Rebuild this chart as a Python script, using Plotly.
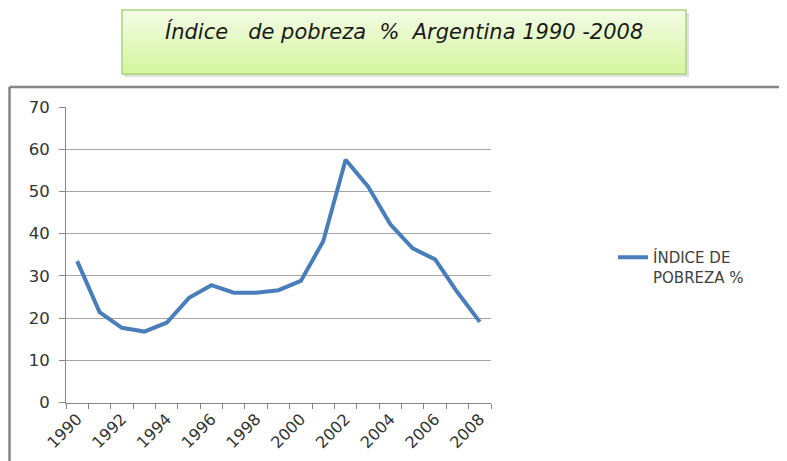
"""
Índice de pobreza % Argentina 1990-2008
Gráfico de línea al estilo Excel
"""
import plotly.graph_objects as go

# Datos
anios = [str(a) for a in range(1990, 2009)]
pobreza = [33.5, 21.4, 17.7, 16.8, 18.9, 24.8, 27.8, 26.0, 26.0, 26.6,
           28.8, 38.2, 57.5, 51.2, 42.2, 36.5, 33.9, 26.1, 19.1]
etiquetas_x = [a if int(a) % 2 == 0 else "" for a in anios]
y_ticks = [0, 10, 20, 30, 40, 50, 60, 70]

titulo = "<i>Índice &nbsp; de pobreza &nbsp;% &nbsp;Argentina 1990 -2008</i>"
nombre_serie = "ÍNDICE DE<br>POBREZA %"

W, H = 787, 461
OFF = 8  # margen del body de la página


def px_x(x):
    # pixel de la ventana -> coordenada paper
    return (x - OFF) / W


def px_y(y):
    return 1 - (y - OFF) / H


fig = go.Figure()

fig.add_trace(go.Scatter(
    x=anios, y=pobreza, mode="lines", name=nombre_serie,
    line=dict(color="#4a7ebb", width=4),
))

shapes = []

# marco del gráfico (borde superior e izquierdo)
shapes.append(dict(type="line", xref="paper", yref="paper",
                   x0=px_x(9.5), x1=1, y0=px_y(87), y1=px_y(87),
                   line=dict(color="#858585", width=2.5)))
shapes.append(dict(type="line", xref="paper", yref="paper",
                   x0=px_x(9.5), x1=px_x(9.5), y0=px_y(87), y1=0,
                   line=dict(color="#858585", width=2.5)))

# caja del título: sombra + degradado por bandas
bx0, bx1, by0, by1 = 122, 686, 10, 74
shapes.append(dict(type="rect", xref="paper", yref="paper",
                   x0=px_x(bx0 + 2), x1=px_x(bx1 + 3), y0=px_y(by0 + 3), y1=px_y(by1 + 3),
                   line=dict(width=0), fillcolor="rgba(0,0,0,0.12)"))
top = (242, 252, 228)
bot = (214, 246, 160)
n = 16
for i in range(n):
    t = i / (n - 1)
    c = tuple(int(top[k] + (bot[k] - top[k]) * t) for k in range(3))
    ya = by0 + (by1 - by0) * i / n
    yb = by0 + (by1 - by0) * (i + 1) / n
    shapes.append(dict(type="rect", xref="paper", yref="paper",
                       x0=px_x(bx0), x1=px_x(bx1), y0=px_y(ya), y1=px_y(yb + 0.5),
                       line=dict(width=0), fillcolor="rgb(%d,%d,%d)" % c))
shapes.append(dict(type="rect", xref="paper", yref="paper",
                   x0=px_x(bx0), x1=px_x(bx1), y0=px_y(by0), y1=px_y(by1),
                   line=dict(color="#a9d37f", width=1.5), fillcolor="rgba(0,0,0,0)"))

fig.update_layout(
    width=W, height=H,
    margin=dict(l=0, r=0, t=0, b=0),
    paper_bgcolor="white", plot_bgcolor="white",
    font=dict(family="DejaVu Sans", size=13, color="#404040"),
    shapes=shapes,
    showlegend=True,
    legend=dict(x=px_x(613), y=px_y(241), xanchor="left", yanchor="top",
                valign="top", font=dict(size=15, color="#404040"),
                bgcolor="rgba(0,0,0,0)"),
    annotations=[dict(
        text=titulo, xref="paper", yref="paper",
        x=px_x(404), y=px_y(32), xanchor="center", yanchor="middle",
        showarrow=False,
        font=dict(family="DejaVu Sans", size=21, color="#1a1a1a"),
    )],
)

fig.update_xaxes(
    domain=[px_x(66), px_x(491)],
    type="category", range=[-0.5, 18.5],
    tickmode="array", tickvals=anios, ticktext=etiquetas_x,
    tickson="boundaries", ticks="outside", ticklen=5, tickcolor="#868686",
    tickangle=-45, tickfont=dict(size=16, color="#333333"),
    showline=True, linecolor="#868686", linewidth=1,
    showgrid=False, zeroline=False, automargin=False,
)

fig.update_yaxes(
    domain=[px_y(402.5), px_y(107)],
    range=[0, 70], tickvals=y_ticks,
    ticks="outside", ticklen=6, tickcolor="#868686",
    ticklabelstandoff=6,
    tickfont=dict(size=16.5, color="#333333"),
    showline=True, linecolor="#868686", linewidth=1,
    showgrid=True, gridcolor="#a6a6a6", gridwidth=1,
    zeroline=False, automargin=False,
)

fig.write_html("out.html")
